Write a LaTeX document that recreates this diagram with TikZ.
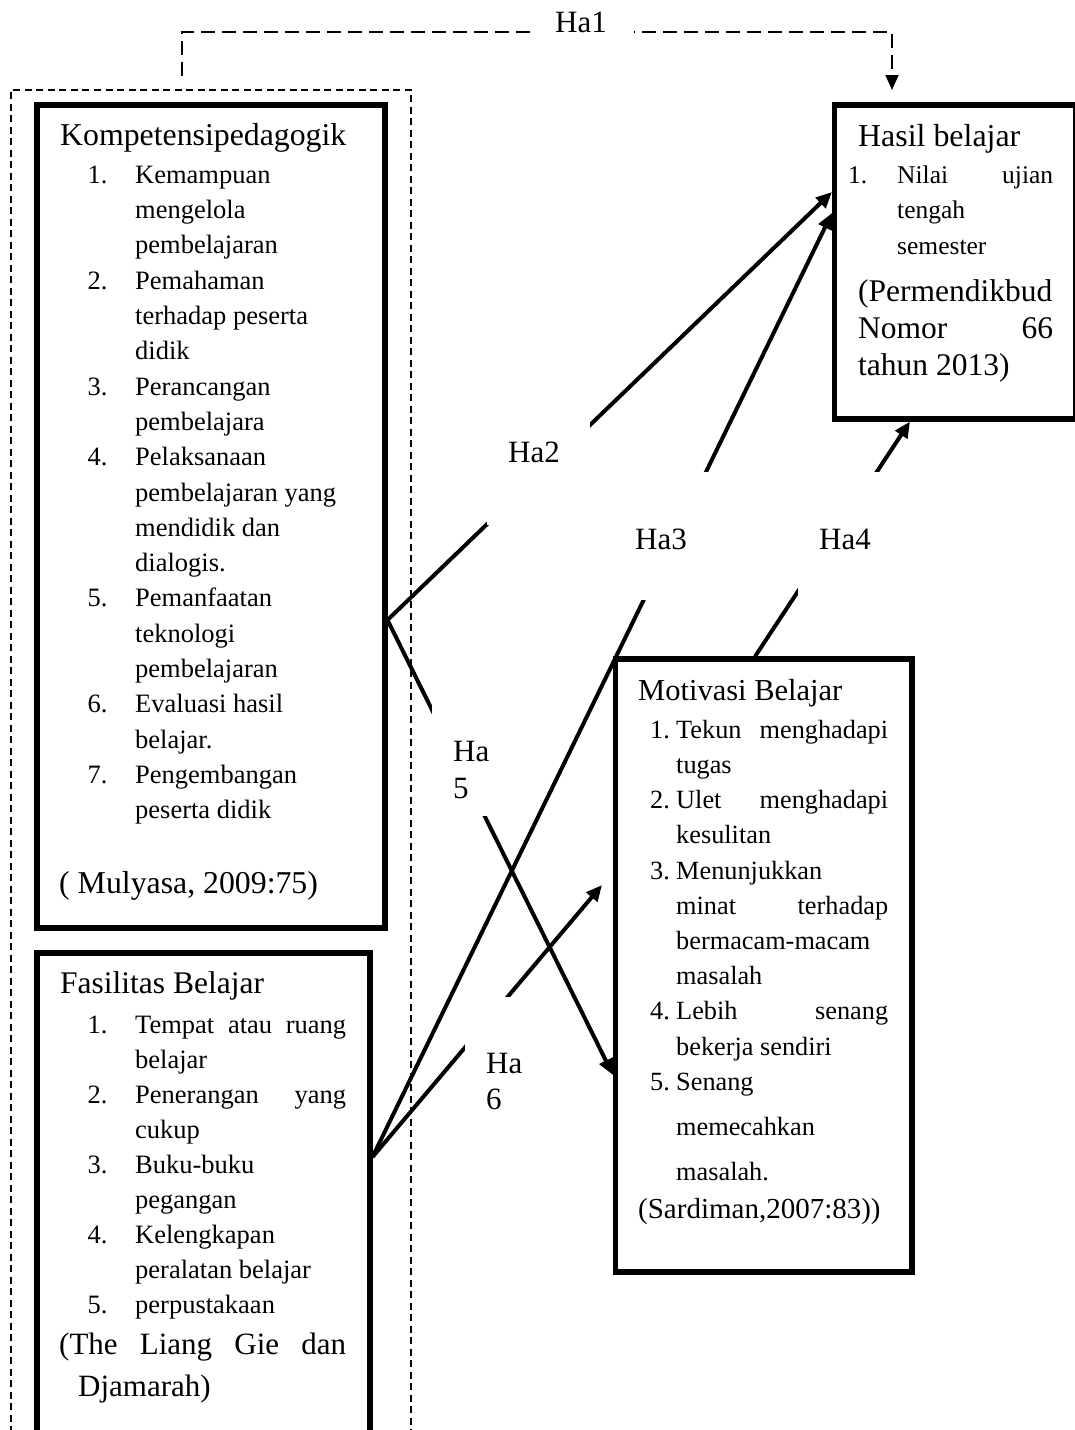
\documentclass[tikz,border=0pt]{standalone}
\usepackage{fontspec}
\setmainfont{Liberation Serif}
\usetikzlibrary{arrows.meta}
\begin{document}
\begin{tikzpicture}[x=1pt,y=-1pt,
  box/.style={draw, line width=5.5pt, inner sep=0pt, outer sep=0pt, anchor=north west},
  grpbox/.style={draw, line width=1.6pt, dash pattern=on 7pt off 4.5pt, inner sep=0pt, outer sep=0pt, anchor=north west},
  conn/.style={line width=4pt, -{Triangle[length=16pt,width=14pt]}},
  ha1line/.style={line width=1.8pt, dash pattern=on 14pt off 7pt, -{Triangle[length=15pt,width=13pt]}},
  lab/.style={fill=white, inner xsep=21pt, inner ysep=0pt, anchor=base west, font=\fontsize{31}{36.6}\selectfont},
  ttl/.style={anchor=base west, inner sep=0pt, font=\fontsize{31.5}{36}\selectfont},
  itm/.style={anchor=base west, inner sep=0pt, font=\fontsize{26.5}{32}\selectfont},
  hitm/.style={anchor=base west, inner sep=0pt, font=\fontsize{25.5}{30}\selectfont},
  mitm/.style={anchor=base west, inner sep=0pt, font=\fontsize{26.3}{32}\selectfont}
]
\useasboundingbox (0,0) rectangle (1075,1430);
\clip (0,0) rectangle (1075,1430);

% ---------- boxes ----------
\node[grpbox, minimum width=400pt, minimum height=1360pt] (grp) at (11,90) {};
\node[box, minimum width=348pt, minimum height=823pt] (komp) at (37,105) {};
\node[box, minimum width=333pt, minimum height=500pt] (fas) at (37,953) {};
\node[box, minimum width=241pt, minimum height=314pt] (hasil) at (834.5,105) {};
\node[box, minimum width=296.5pt, minimum height=613pt] (motiv) at (615.5,659) {};

% ---------- connector end points (on box borders) ----------
\coordinate (kR)  at (387.5,620);
\coordinate (fR)  at (372.5,1157);
\coordinate (hL1) at (832,192);
\coordinate (hL2) at (832,213);
\coordinate (hB)  at (910,421.5);
\coordinate (mT)  at (755,656.5);
\coordinate (mL)  at (613,1075);
\coordinate (m6)  at (602,885);
\coordinate (h1s) at (182,76);
\coordinate (h1c) at (182,32);
\coordinate (h1e) at (892,90);

% ---------- connectors ----------
\draw[ha1line] (h1s) -- (h1c) -| (h1e);
\draw[conn] (kR) -- (hL1);
\draw[conn] (fR) -- (hL2);
\draw[conn] (mT) -- (hB);
\draw[conn] (kR) -- (mL);
\draw[conn] (fR) -- (m6);

% ---------- hypothesis labels (white text boxes) ----------
\node[lab, inner xsep=20pt, text height=25pt, text depth=8pt] (ha1) at (535,32) {\makebox[59pt][l]{Ha1}};
\node[lab, text height=72.7pt, text depth=62.3pt] (ha2) at (487,462.7) {\makebox[61pt][l]{Ha2}};
\node[lab, text height=77pt, text depth=51pt] (ha3) at (614,549) {\makebox[61pt][l]{Ha3}};
\node[lab, text height=77pt, text depth=51pt] (ha4) at (798,549) {\makebox[61pt][l]{Ha4}};
\node[lab, text height=76.7pt, text depth=54.3pt] (ha5) at (432,761.7) {\makebox[26pt][l]{\begin{tabular}[t]{@{}l@{}}Ha\\5\end{tabular}}};
\node[lab, text height=76pt, text depth=52pt] (ha6) at (465,1073) {\makebox[26pt][l]{\begin{tabular}[t]{@{}l@{}}Ha\\6\end{tabular}}};

% ---------- Kompetensi pedagogik ----------
\node[ttl, font=\fontsize{31.8}{36}\selectfont] (kt) at (60,145) {Kompetensipedagogik};
\foreach \tx [count=\i from 0] in {Kemampuan, mengelola, pembelajaran, Pemahaman, terhadap peserta, didik, Perancangan, pembelajara, Pelaksanaan, pembelajaran yang, mendidik dan, dialogis., Pemanfaatan, teknologi, pembelajaran, Evaluasi hasil, belajar., Pengembangan, peserta didik}
  \node[itm] (kl\i) at (135,183.3+35.3*\i) {\tx};
\foreach \n/\k in {1/0,2/3,3/6,4/8,5/12,6/15,7/17}
  \node[itm] (kn\n) at (87.5,183.3+35.3*\k) {\n.};
\node[ttl, font=\fontsize{31.8}{36}\selectfont] (kc) at (59,893.3) {( Mulyasa, 2009:75)};

% ---------- Fasilitas Belajar ----------
\node[ttl] (ft) at (60,993.3) {Fasilitas Belajar};
\foreach \tx [count=\i from 0] in {\makebox[211pt][s]{Tempat atau ruang}, belajar, \makebox[211pt][s]{Penerangan yang}, cukup, Buku-buku, pegangan, Kelengkapan, peralatan belajar, perpustakaan}
  \node[itm] (fl\i) at (135,1033.3+35*\i) {\tx};
\foreach \n/\k in {1/0,2/2,3/4,4/6,5/8}
  \node[itm] (fn\n) at (87.5,1033.3+35*\k) {\n.};
\node[ttl, font=\fontsize{31}{36}\selectfont] (fc1) at (59,1354) {\makebox[287pt][s]{(The Liang Gie dan}};
\node[ttl, font=\fontsize{31}{36}\selectfont] (fc2) at (78,1396.7) {Djamarah)};

% ---------- Hasil belajar ----------
\node[ttl, font=\fontsize{31.9}{36}\selectfont] (htt) at (858,146.7) {Hasil belajar};
\node[hitm] (hn1) at (848,183.3) {1.};
\node[hitm] (hl0) at (897,183.3) {\makebox[156pt][s]{Nilai ujian}};
\node[hitm] (hl1) at (897,218.5) {tengah};
\node[hitm] (hl2) at (897,254) {semester};
\node[ttl] (hc1) at (858,301.7) {(Permendikbud};
\node[ttl] (hc2) at (858,338.3) {\makebox[195pt][s]{Nomor 66}};
\node[ttl] (hc3) at (858,375) {tahun 2013)};

% ---------- Motivasi Belajar ----------
\node[ttl, font=\fontsize{30.5}{36}\selectfont] (mt) at (638,700) {Motivasi Belajar};
\foreach \tx [count=\i from 0] in {\makebox[212pt][s]{Tekun menghadapi}, tugas, \makebox[212pt][s]{Ulet menghadapi}, kesulitan, Menunjukkan, \makebox[212pt][s]{minat terhadap}, bermacam-macam, masalah, \makebox[212pt][s]{Lebih senang}, bekerja sendiri, Senang}
  \node[mitm] (ml\i) at (676,738.3+35.2*\i) {\tx};
\foreach \n/\k in {1/0,2/2,3/4,4/8,5/10}
  \node[mitm] (mn\n) at (650,738.3+35.2*\k) {\n.};
\node[mitm] (ml11) at (676,1135) {memecahkan};
\node[mitm] (ml12) at (676,1180) {masalah.};
\node[ttl, font=\fontsize{29}{34}\selectfont] (mc) at (638,1218.3) {(Sardiman,2007:83))};
\end{tikzpicture}
\end{document}
